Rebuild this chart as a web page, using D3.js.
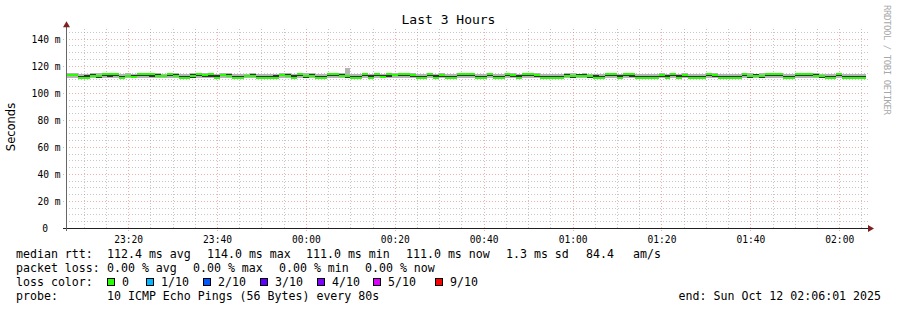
<!DOCTYPE html>
<html>
<head>
<meta charset="utf-8">
<script src="https://cdn.jsdelivr.net/npm/d3@7"></script>
<style>
  body { margin: 0; background: #fff; }
  text { font-family: "DejaVu Sans Mono", monospace; fill: #000; }
</style>
</head>
<body>
<svg id="main-svg"></svg>
<script>
// DATA
const title = "Last 3 Hours";
const yLabel = "Seconds";
const endTime = new Date(2025, 9, 12, 2, 6, 1);
const stepSeconds = 80;
const yTicks = [0, 20, 40, 60, 80, 100, 120, 140];

// median rtt per 80s step (ms)
const median = [
  113.5,113.4,111.0,111.1,112.5,112.4,114.0,113.9,113.7,111.2,112.3,112.0,113.8,113.7,113.8,
  112.5,112.3,114.0,112.6,111.1,111.0,112.4,113.6,112.8,113.6,111.3,113.4,112.6,111.1,111.0,
  112.4,112.5,111.2,111.1,111.0,111.2,113.5,112.6,111.3,113.6,112.4,112.7,111.1,111.0,113.8,
  113.7,112.4,112.3,111.2,111.1,113.6,111.3,113.6,111.4,113.6,113.5,113.7,113.6,113.4,111.2,
  111.1,113.6,111.3,113.4,111.2,111.1,113.7,113.6,113.8,111.1,111.0,113.8,111.2,111.1,113.6,
  113.5,111.3,113.6,113.7,113.5,111.1,111.0,111.2,111.1,112.5,112.4,112.6,112.5,112.3,111.3,
  111.2,113.6,113.7,111.3,113.7,113.6,111.1,111.0,111.2,111.1,113.5,111.3,113.6,111.3,113.5,
  111.2,111.1,111.2,113.6,113.5,111.1,111.0,111.2,111.1,113.6,112.4,112.5,112.3,113.8,113.7,
  113.8,111.2,111.1,113.9,114.0,113.8,112.5,112.4,111.2,111.1,113.6,111.0,111.1,111.0,111.0
];
// smoke: lowest and highest ping per step (ms)
const smokeLo = [
  110.9,110.8,110.6,110.7,110.8,110.9,111.0,110.9,110.8,110.6,110.8,110.9,110.9,111.0,110.8,
  110.8,110.9,111.0,110.7,110.6,110.7,110.8,110.9,110.8,110.9,110.7,110.8,110.8,110.6,110.7,
  110.8,110.9,110.7,110.6,110.7,110.8,110.9,110.8,110.7,110.9,110.8,110.8,110.6,110.7,110.9,
  111.0,110.8,110.8,110.7,110.6,110.9,110.7,110.9,110.8,110.9,111.0,110.9,110.8,110.9,110.7,
  110.6,110.9,110.7,110.9,110.7,110.6,111.0,110.9,110.9,110.6,110.7,110.9,110.7,110.6,110.9,
  110.8,110.7,110.9,111.0,110.8,110.6,110.7,110.7,110.6,110.8,110.9,110.8,110.8,110.9,110.7,
  110.7,110.9,110.8,110.7,110.9,111.0,110.6,110.7,110.6,110.7,110.9,110.7,110.8,110.7,110.9,
  110.7,110.6,110.7,110.9,110.8,110.6,110.7,110.6,110.7,110.9,110.8,110.9,110.8,111.0,110.9,
  110.9,110.7,110.6,111.0,110.9,110.9,110.8,110.8,110.7,110.6,110.9,110.6,110.7,110.6,110.7
];
const smokeHi = [
  114.5,114.3,114.1,114.2,114.4,114.3,114.6,114.5,114.4,114.2,114.3,114.1,114.5,114.4,114.5,
  114.3,114.2,114.6,114.4,114.1,114.2,114.3,114.5,114.4,114.4,114.2,114.3,114.4,114.1,114.0,
  114.2,114.3,114.1,114.2,114.0,114.2,114.4,114.3,114.1,114.5,114.3,114.4,114.2,114.1,114.5,
  114.4,114.3,118.2,114.1,114.2,114.4,114.1,114.5,114.2,114.4,114.3,114.5,114.4,114.3,114.1,
  114.2,114.4,114.0,114.3,114.1,114.0,114.5,114.4,114.5,114.2,114.1,114.4,114.2,114.0,114.4,
  114.3,114.1,114.4,114.5,114.3,114.2,114.0,114.1,114.2,114.3,114.4,114.2,114.3,114.2,114.1,
  114.0,114.4,114.5,114.1,114.4,114.3,114.1,114.0,114.2,114.1,114.3,114.1,114.4,114.2,114.3,
  114.1,114.2,114.0,114.4,114.3,114.1,114.0,114.2,114.1,114.4,114.3,114.2,114.3,114.5,114.4,
  114.5,114.2,114.1,114.5,114.6,114.4,114.3,114.2,114.1,114.0,114.3,114.0,114.1,114.0,114.1
];
// smoke core: inner pings per step (ms)
const coreLo = [
  112.1,112.3,111.0,110.9,111.5,111.3,112.4,112.0,112.2,111.0,111.4,111.2,112.1,112.3,112.0,
  111.5,111.4,112.2,111.6,110.9,111.0,111.3,112.1,111.5,112.0,111.0,112.3,111.4,110.9,111.0,
  111.4,111.5,111.0,110.9,110.9,111.0,112.1,111.5,111.0,112.2,111.3,111.6,110.9,111.0,112.2,
  112.3,111.4,111.3,111.0,110.9,112.1,111.0,112.2,111.1,112.0,112.2,112.4,112.1,112.0,111.0,
  110.9,112.1,111.0,112.0,111.0,110.9,112.3,112.1,112.2,110.9,110.9,112.3,111.0,110.9,112.1,
  112.0,111.1,112.2,112.3,112.0,110.9,110.9,111.0,110.9,111.4,111.3,111.5,111.4,111.3,111.1,
  111.0,112.1,112.3,111.1,112.2,112.0,110.9,110.9,111.0,110.9,112.0,111.1,112.1,111.0,112.0,
  111.0,110.9,111.0,112.2,112.0,110.9,110.9,111.0,110.9,112.1,111.3,111.4,111.2,112.3,112.2,
  112.3,111.0,110.9,112.4,112.5,112.2,111.4,111.3,111.0,110.9,112.1,110.9,111.0,110.9,110.9
];
const coreHi = [
  114.0,113.9,112.6,112.8,113.6,113.5,114.2,114.0,113.9,112.7,113.5,113.3,114.0,113.9,114.1,
  113.6,113.5,114.2,113.7,112.6,112.5,113.6,113.9,113.7,113.9,112.8,113.8,113.7,112.6,112.5,
  113.5,113.6,112.7,112.6,112.5,112.8,113.9,113.7,112.8,114.0,113.5,113.8,112.6,112.5,114.0,
  113.9,113.6,113.5,112.7,112.6,113.8,112.8,113.9,112.9,113.8,113.7,113.9,113.8,113.7,112.7,
  112.6,113.9,112.8,113.7,112.7,112.6,114.0,113.9,114.0,112.6,112.5,114.0,112.7,112.6,113.8,
  113.7,112.8,113.9,114.0,113.7,112.6,112.5,112.7,112.6,113.6,113.5,113.7,113.6,113.5,112.8,
  112.7,113.8,113.9,112.8,113.9,113.8,112.6,112.5,112.7,112.6,113.7,112.8,113.8,112.8,113.7,
  112.7,112.6,112.7,113.8,113.7,112.6,112.5,112.7,112.6,113.8,113.5,113.6,113.5,114.0,113.9,
  114.0,112.7,112.6,114.1,114.2,114.0,113.6,113.5,112.7,112.6,113.8,112.5,112.6,112.5,112.6
];

const rttLegend = ["median rtt:", "112.4 ms avg", "114.0 ms max", "111.0 ms min", "111.0 ms now", "1.3 ms sd", "84.4", "am/s"];
const lossLegend = ["packet loss:", "0.00 % avg", "0.00 % max", "0.00 % min", "0.00 % now"];
const lossLabels = ["0", "1/10", "2/10", "3/10", "4/10", "5/10", "9/10"];
const lossColors = ["#26ff00", "#00b8ff", "#0059ff", "#5e00ff", "#7e00ff", "#dd00ff", "#ff0000"];
const probeText = "10 ICMP Echo Pings (56 Bytes) every 80s";
const endText = "end: Sun Oct 12 02:06:01 2025";
const watermark = "RRDTOOL / TOBI OETIKER";

// LAYOUT
WIDTH = 897
HEIGHT = 310
PLOT_LEFT = 66
PLOT_RIGHT = 866
PLOT_TOP = 25.2
PLOT_BOTTOM = 228
GRID_COLOR = "rgba(143,143,143,0.5)"
MGRID_COLOR = "rgba(222,79,79,0.45)"

const svg = d3.select("#main-svg")
  .attr("width", WIDTH)
  .attr("height", HEIGHT);

svg.append("rect")
  .attr("width", WIDTH)
  .attr("height", HEIGHT)
  .attr("fill", "#fff");

const startTime = new Date(endTime.getTime() - median.length * stepSeconds * 1000);
const stepTime = (i) => new Date(startTime.getTime() + i * stepSeconds * 1000);

const x = d3.scaleTime()
  .domain([startTime, endTime])
  .range([PLOT_LEFT, PLOT_RIGHT]);

const y = d3.scaleLinear()
  .domain([0, 150])
  .range([PLOT_BOTTOM, PLOT_TOP]);

// grid
const gridGroup = svg.append("g");
const minorY = d3.range(5, 150, 5).filter(v => v % 20 != 0);
const majorY = yTicks.filter(v => v > 0);
const minorX = x.ticks(d3.timeMinute.every(5)).filter(t => t.getMinutes() % 20 != 0);
const majorX = x.ticks(d3.timeMinute.every(20));

gridGroup.selectAll(".hminor").data(minorY).enter().append("line")
  .attr("x1", PLOT_LEFT).attr("x2", PLOT_RIGHT + 2)
  .attr("y1", d => Math.round(y(d)) + 0.5).attr("y2", d => Math.round(y(d)) + 0.5)
  .attr("stroke", GRID_COLOR).attr("stroke-dasharray", "1,2");
gridGroup.selectAll(".vminor").data(minorX).enter().append("line")
  .attr("x1", d => Math.round(x(d)) + 0.5).attr("x2", d => Math.round(x(d)) + 0.5)
  .attr("y1", PLOT_BOTTOM).attr("y2", PLOT_TOP + 2)
  .attr("stroke", GRID_COLOR).attr("stroke-dasharray", "1,2");
gridGroup.selectAll(".hmajor").data(majorY).enter().append("line")
  .attr("x1", PLOT_LEFT - 3).attr("x2", PLOT_RIGHT + 2)
  .attr("y1", d => Math.round(y(d)) + 0.5).attr("y2", d => Math.round(y(d)) + 0.5)
  .attr("stroke", MGRID_COLOR).attr("stroke-dasharray", "1,2");
gridGroup.selectAll(".vmajor").data(majorX).enter().append("line")
  .attr("x1", d => Math.round(x(d)) + 0.5).attr("x2", d => Math.round(x(d)) + 0.5)
  .attr("y1", PLOT_BOTTOM + 3).attr("y2", PLOT_TOP + 2)
  .attr("stroke", MGRID_COLOR).attr("stroke-dasharray", "1,2");

// smoke and median
const dataGroup = svg.append("g").attr("shape-rendering", "crispEdges");
const idx = d3.range(median.length);

dataGroup.selectAll(".smoke").data(idx).enter().append("rect")
  .attr("x", i => x(stepTime(i)))
  .attr("width", i => x(stepTime(i + 1)) - x(stepTime(i)))
  .attr("y", i => y(smokeHi[i]))
  .attr("height", i => y(smokeLo[i]) - y(smokeHi[i]))
  .attr("fill", "#b4b4b4");

dataGroup.selectAll(".core").data(idx).enter().append("rect")
  .attr("x", i => x(stepTime(i)))
  .attr("width", i => x(stepTime(i + 1)) - x(stepTime(i)))
  .attr("y", i => y(coreHi[i]))
  .attr("height", i => y(coreLo[i]) - y(coreHi[i]))
  .attr("fill", "#333");

dataGroup.selectAll(".median").data(idx).enter().append("rect")
  .attr("x", i => x(stepTime(i)))
  .attr("width", i => x(stepTime(i + 1)) - x(stepTime(i)))
  .attr("y", i => y(median[i]) - 1)
  .attr("height", 2)
  .attr("fill", lossColors[0]);

// axes
const axisGroup = svg.append("g");
axisGroup.append("line")
  .attr("x1", PLOT_LEFT - 3).attr("x2", PLOT_RIGHT + 3)
  .attr("y1", PLOT_BOTTOM + 0.5).attr("y2", PLOT_BOTTOM + 0.5)
  .attr("stroke", "#1f1f1f");
axisGroup.append("line")
  .attr("x1", PLOT_LEFT + 0.5).attr("x2", PLOT_LEFT + 0.5)
  .attr("y1", PLOT_BOTTOM + 3).attr("y2", PLOT_TOP - 1)
  .attr("stroke", "#666");
axisGroup.append("path")
  .attr("d", `M${PLOT_RIGHT + 2},${PLOT_BOTTOM - 3} L${PLOT_RIGHT + 8},${PLOT_BOTTOM + 0.5} L${PLOT_RIGHT + 2},${PLOT_BOTTOM + 4} Z`)
  .attr("fill", "#801f1f");
axisGroup.append("path")
  .attr("d", `M${PLOT_LEFT - 3},${PLOT_TOP + 2} L${PLOT_LEFT + 0.5},${PLOT_TOP - 4} L${PLOT_LEFT + 4},${PLOT_TOP + 2} Z`)
  .attr("fill", "#801f1f");

// tick labels
axisGroup.selectAll(".xlab").data(majorX).enter().append("text")
  .attr("x", d => x(d) + 0.5)
  .attr("y", 243)
  .attr("text-anchor", "middle")
  .style("font-size", "9.6px")
  .text(d => d3.timeFormat("%H:%M")(d));

axisGroup.selectAll(".ylab").data(yTicks).enter().append("text")
  .attr("x", d => d == 0 ? 48 : 60.5)
  .attr("y", d => Math.round(y(d)) + 4)
  .attr("text-anchor", "end")
  .style("font-size", "9.6px")
  .text(d => d == 0 ? "0" : `${d} m`);

// title and labels
svg.append("text")
  .attr("x", WIDTH / 2)
  .attr("y", 24)
  .attr("text-anchor", "middle")
  .style("font-size", "13px")
  .text(title);

svg.append("text")
  .attr("transform", "translate(15,127) rotate(-90)")
  .attr("text-anchor", "middle")
  .style("font-family", "'DejaVu Sans', sans-serif")
  .style("font-size", "11.5px")
  .text(yLabel);

svg.append("text")
  .attr("transform", "translate(884,5) rotate(90)")
  .attr("textLength", 110)
  .style("font-size", "9px")
  .style("fill", "#a8a8a8")
  .text(watermark);

// legend
const legendGroup = svg.append("g").style("font-size", "11.6px");
const rttX = [16, 107, 207, 306, 406, 506, 586, 633];
const lossX = [16, 107, 193, 279, 365];
const boxX = [107, 146, 203, 260, 317, 373, 435];

legendGroup.selectAll(".rtt").data(rttLegend).enter().append("text")
  .attr("x", (_, i) => rttX[i]).attr("y", 258)
  .text(d => d);

legendGroup.selectAll(".loss").data(lossLegend).enter().append("text")
  .attr("x", (_, i) => lossX[i]).attr("y", 272)
  .text(d => d);

legendGroup.append("text").attr("x", 16).attr("y", 286).text("loss color:");
legendGroup.selectAll(".lbox").data(lossColors).enter().append("rect")
  .attr("x", (_, i) => boxX[i] + 0.5).attr("y", 278.5)
  .attr("width", 7).attr("height", 7)
  .attr("fill", d => d)
  .attr("stroke", "#000");
legendGroup.selectAll(".ltext").data(lossLabels).enter().append("text")
  .attr("x", (_, i) => boxX[i] + 15).attr("y", 286)
  .text(d => d);

legendGroup.append("text").attr("x", 16).attr("y", 300).text("probe:");
legendGroup.append("text").attr("x", 107).attr("y", 300).text(probeText);
legendGroup.append("text").attr("x", 881).attr("y", 300)
  .attr("text-anchor", "end").text(endText);
</script>
</body>
</html>
